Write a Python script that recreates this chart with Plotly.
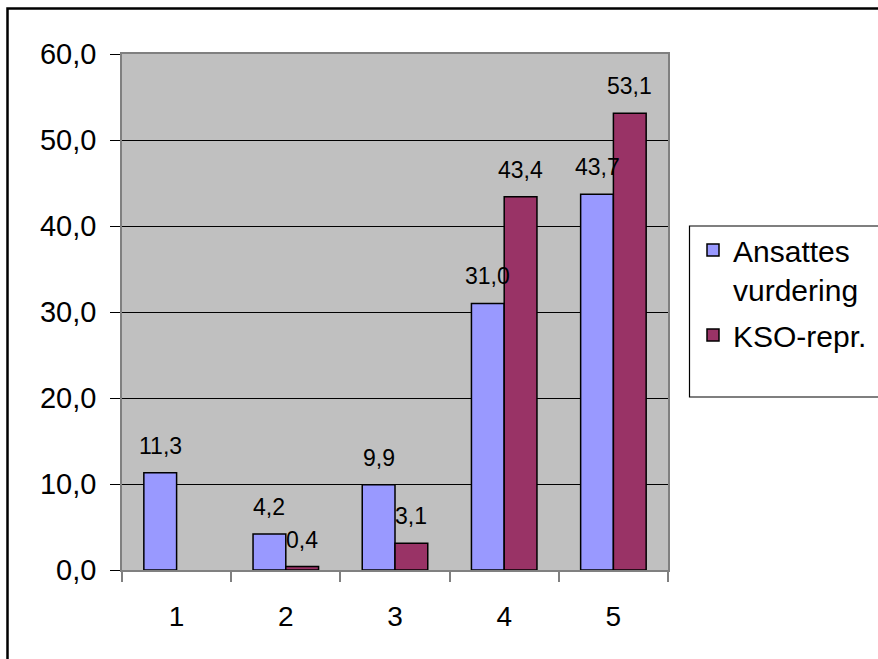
import plotly.graph_objects as go

# Survey score distribution (per cent), two rater groups
categories = ["1", "2", "3", "4", "5"]
ansattes = [11.3, 4.2, 9.9, 31.0, 43.7]
kso = [None, 0.4, 3.1, 43.4, 53.1]
series_names = ["Ansattes<br>vurdering", "KSO-repr."]
series_colors = ["#9999FF", "#993366"]
y_ticks = [0, 10, 20, 30, 40, 50, 60]

FONT = "Arial, 'Liberation Sans', sans-serif"
W, H = 878, 659
L, R, T, B = 122, 210, 54, 89
plot_w, plot_h = W - L - R, H - T - B


def px_x(p):
    return (p - L) / plot_w


def px_y(p):
    return (H - B - p) / plot_h


fig = go.Figure()
for k, (name, vals, col) in enumerate(zip(series_names, [ansattes, kso], series_colors)):
    fig.add_trace(go.Bar(
        x=categories, y=vals, name=name, legendgroup=f"g{k}",
        marker=dict(color=col, line=dict(color="black", width=1.5)),
        hoverinfo="skip",
    ))

# value labels above each bar
bargap = 0.4
cat_px = plot_w / len(categories)
bar_px = cat_px * (1 - bargap) / 2
annotations = []
for k, vals in enumerate([ansattes, kso]):
    shift = (k - 0.5) * bar_px
    for i, v in enumerate(vals):
        if v is None:
            continue
        annotations.append(dict(
            x=i, y=v, xref="x", yref="y", text=f"{v:.1f}".replace(".", ","),
            showarrow=False, yanchor="bottom", xanchor="center",
            xshift=shift, yshift=12,
            font=dict(family=FONT, size=23, color="black"),
        ))

shapes = [
    # outer chart frame
    dict(type="rect", xref="paper", yref="paper",
         x0=px_x(7.5), x1=px_x(895), y0=px_y(675), y1=px_y(8.5),
         line=dict(color="black", width=2.5), layer="above"),
    # legend frame
    dict(type="rect", xref="paper", yref="paper",
         x0=px_x(689.5), x1=px_x(895), y0=px_y(397), y1=px_y(226),
         line=dict(color="black", width=1.2), layer="above"),
]

fig.update_layout(
    width=W, height=H,
    margin=dict(l=L, r=R, t=T, b=B, pad=0, autoexpand=False),
    paper_bgcolor="white", plot_bgcolor="#C0C0C0",
    separators=", ",
    barmode="group", bargap=bargap, bargroupgap=0,
    font=dict(family=FONT, color="black"),
    showlegend=True,
    legend=dict(
        x=px_x(693), y=px_y(224), xanchor="left", yanchor="top",
        bgcolor="rgba(0,0,0,0)", borderwidth=0,
        font=dict(family=FONT, size=30, color="black"),
        valign="top", traceorder="grouped", tracegroupgap=4,
    ),
    annotations=annotations,
    shapes=shapes,
)

fig.update_xaxes(
    type="category", range=[-0.5, len(categories) - 0.5], tickson="boundaries",
    ticks="outside", ticklen=10, tickcolor="#808080", tickwidth=1.5,
    showline=True, linecolor="#808080", linewidth=1.5, mirror=True,
    showgrid=False,
    tickfont=dict(family=FONT, size=28, color="black"),
    ticklabelstandoff=21,
)
fig.update_yaxes(
    range=[0, 60], tickvals=y_ticks, tickformat=".1f",
    ticks="outside", ticklen=10, tickcolor="black", tickwidth=1.2,
    showline=True, linecolor="#808080", linewidth=1.5, mirror=True,
    showgrid=True, gridcolor="black", gridwidth=1.2, zeroline=False,
    tickfont=dict(family=FONT, size=29, color="black"),
    ticklabelstandoff=8,
)

fig.write_html("out.html")
